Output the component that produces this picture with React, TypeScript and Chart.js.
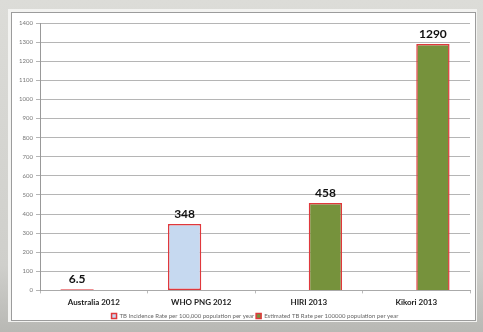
import React, { useEffect, useRef } from "react";
import { Chart, registerables } from "chart.js";

Chart.register(...registerables);

const categories = ["Australia 2012", "WHO PNG 2012", "HIRI 2013", "Kikori 2013"];
const incidenceLabel = "TB Incidence Rate per 100,000 population per year";
const estimatedLabel = "Estimated TB Rate per 100000 population per year";
const incidenceValues: (number | null)[] = [6.5, 348, null, null];
const estimatedValues: (number | null)[] = [null, null, 458, 1290];
const yMin = 0;
const yMax = 1400;
const yStep = 100;

const valueLabels = {
  id: "valueLabels",
  afterDatasetsDraw(chart: any) {
    const ctx = chart.ctx;
    ctx.save();
    ctx.font = "bold 12px Lato, 'Open Sans', sans-serif";
    ctx.fillStyle = "#111";
    ctx.textAlign = "center";
    ctx.textBaseline = "bottom";
    chart.data.datasets.forEach((ds: any, di: number) => {
      const meta = chart.getDatasetMeta(di);
      meta.data.forEach((el: any, i: number) => {
        const v = ds.data[i];
        if (v === null || v === undefined) return;
        ctx.fillText(String(v), el.x, el.y - 4);
      });
    });
    ctx.restore();
  },
};

export default function App() {
  const ref = useRef<HTMLCanvasElement | null>(null);
  useEffect(() => {
    if (!ref.current) return;
    const chart = new Chart(ref.current, {
      type: "bar",
      data: {
        labels: categories,
        datasets: [
          {
            label: incidenceLabel,
            data: incidenceValues,
            backgroundColor: "#c6d9f0",
            borderColor: "#e0383c",
            borderWidth: 1.5,
            borderSkipped: false,
            categoryPercentage: 0.62,
            barPercentage: 1.0,
          },
          {
            label: estimatedLabel,
            data: estimatedValues,
            backgroundColor: "#76923c",
            borderColor: "#e0383c",
            borderWidth: 1.5,
            categoryPercentage: 0.62,
            barPercentage: 1.0,
          },
        ],
      },
      options: {
        animation: false,
        responsive: false,
        maintainAspectRatio: false,
        layout: { padding: { left: 0, right: 13, top: 23, bottom: 3 } },
        plugins: {
          tooltip: { enabled: false },
          legend: {
            position: "bottom",
            fullSize: false,
            labels: {
              boxWidth: 5,
              boxHeight: 5,
              padding: 2,
              color: "#666",
              font: { size: 6, family: "Lato, 'Open Sans', sans-serif" },
            },
          },
        },
        scales: {
          x: {
            grid: { drawOnChartArea: false, drawTicks: true, tickLength: 3, color: "#bbb", offset: true },
            border: { color: "#aaa" },
            ticks: {
              color: "#222",
              padding: 4,
              font: { size: 8, weight: "bold", family: "Lato, 'Open Sans', sans-serif" },
              maxRotation: 0,
              autoSkip: false,
            },
          },
          y: {
            min: yMin,
            max: yMax,
            afterFit: (s: any) => {
              s.width = 40;
            },
            grid: { color: "#b5b5b5", tickLength: 4 },
            border: { color: "#999" },
            ticks: {
              stepSize: yStep,
              padding: 3,
              color: "#777",
              font: { size: 6, family: "Lato, 'Open Sans', sans-serif" },
              callback: (v: any) => String(v),
            },
          },
        },
      },
      plugins: [valueLabels],
    });
    return () => chart.destroy();
  }, []);

  return (
    <div
      style={{
        position: "fixed",
        left: 0,
        top: 0,
        width: 483,
        height: 332,
        background: "linear-gradient(#dcdcd8, #cfcfcb 80%, #b8b8b4)",
        overflow: "hidden",
      }}
    >
      <div
        style={{
          position: "absolute",
          left: 8,
          top: 9,
          width: 469,
          height: 313,
          background: "#f3f3f1",
        }}
      />
      <div
        style={{
          position: "absolute",
          left: 11,
          top: 12,
          width: 463,
          height: 307,
          background: "#ffffff",
          border: "1px solid #9c9c9c",
        }}
      />
      <canvas
        ref={ref}
        width={483}
        height={332}
        style={{ position: "absolute", left: 0, top: 0, width: 483, height: 332 }}
      />
    </div>
  );
}
